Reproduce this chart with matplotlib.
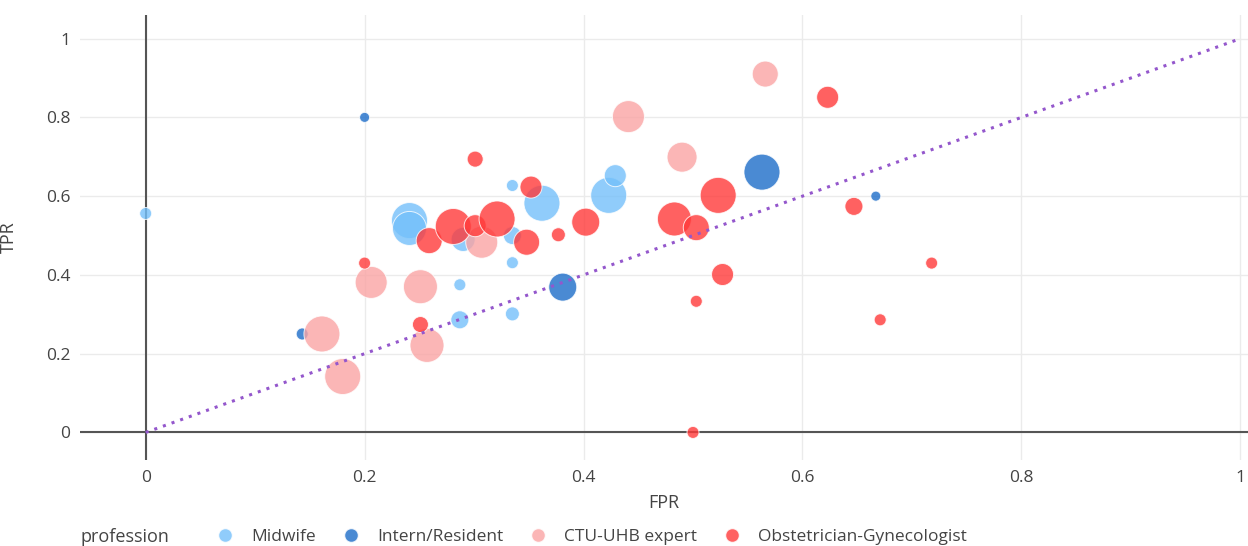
import numpy as np
import matplotlib
matplotlib.use("Agg")
import matplotlib.pyplot as plt
from matplotlib.lines import Line2D

plt.rcParams['font.family'] = ['Open Sans', 'DejaVu Sans']

professions = ["Midwife", "Intern/Resident", "CTU-UHB expert", "Obstetrician-Gynecologist"]
colors = ["#74C0FA", "#1D6DC9", "#FAA4A4", "#FF3939"]

# FPR, TPR and bubble size per profession
midwife_fpr = [0.0, 0.241, 0.241, 0.29, 0.335, 0.335, 0.362, 0.423, 0.429, 0.335, 0.287, 0.335, 0.287]
midwife_tpr = [0.556, 0.538, 0.518, 0.49, 0.627, 0.50, 0.582, 0.602, 0.652, 0.431, 0.375, 0.301, 0.286]
midwife_size = [6, 18, 17, 12, 6, 9, 18, 18, 11, 6, 6, 7, 9]

intern_fpr = [0.2, 0.563, 0.381, 0.143, 0.667]
intern_tpr = [0.8, 0.661, 0.369, 0.25, 0.6]
intern_size = [5, 18, 14, 6, 5]

ctu_fpr = [0.566, 0.441, 0.49, 0.307, 0.206, 0.251, 0.257, 0.161, 0.18]
ctu_tpr = [0.91, 0.802, 0.699, 0.483, 0.381, 0.37, 0.221, 0.25, 0.142]
ctu_size = [13, 16, 15, 16, 16, 17, 17, 18, 18]

obgyn_fpr = [0.623, 0.301, 0.352, 0.259, 0.281, 0.301, 0.321, 0.348, 0.377, 0.402,
             0.523, 0.483, 0.503, 0.647, 0.527, 0.503, 0.718, 0.671, 0.2, 0.251, 0.5]
obgyn_tpr = [0.851, 0.694, 0.623, 0.487, 0.523, 0.525, 0.542, 0.483, 0.502, 0.534,
             0.602, 0.542, 0.52, 0.574, 0.401, 0.333, 0.43, 0.286, 0.43, 0.274, 0.0]
obgyn_size = [11, 8, 11, 13, 18, 11, 18, 13, 7, 14,
              18, 17, 13, 9, 11, 6, 6, 6, 6, 8, 6]

series = [
    (midwife_fpr, midwife_tpr, midwife_size),
    (intern_fpr, intern_tpr, intern_size),
    (ctu_fpr, ctu_tpr, ctu_size),
    (obgyn_fpr, obgyn_tpr, obgyn_size),
]

fig = plt.figure(figsize=(12.48, 5.46), dpi=100)
ax = fig.add_axes([80 / 1248, 86 / 546, 1168 / 1248, 445 / 546])

ax.grid(True, color="#ebebeb", linewidth=1)
ax.set_axisbelow(True)
ax.axhline(0, color="#555555", linewidth=1.5, zorder=1)
ax.axvline(0, color="#555555", linewidth=1.5, zorder=1)

# diagonal reference line
ax.plot([0, 1], [0, 1], linestyle=(0, (1, 2)), color="#9457cc", linewidth=2.2, zorder=3)

for (fx, ty, sz), prof, col in zip(series, professions, colors):
    s = (1.44 * np.array(sz)) ** 2
    ax.scatter(fx, ty, s=s, color=col, alpha=0.8, edgecolors="white", linewidths=0.7,
               zorder=2, label=prof)

ax.set_xlim(-0.06, 1.007)
ax.set_ylim(-0.07, 1.06)
ax.set_xticks([0, 0.2, 0.4, 0.6, 0.8, 1])
ax.set_xticklabels(["0", "0.2", "0.4", "0.6", "0.8", "1"])
ax.set_yticks([0, 0.2, 0.4, 0.6, 0.8, 1])
ax.set_yticklabels(["0", "0.2", "0.4", "0.6", "0.8", "1"])
ax.tick_params(length=0, labelsize=12.5, colors="#444444", pad=7)
for sp in ax.spines.values():
    sp.set_visible(False)

ax.set_xlabel("FPR", fontsize=13, color="#444444", labelpad=6)
ax.set_ylabel("TPR", fontsize=13, color="#444444", labelpad=20)

fig.text(80 / 1248, 9 / 546, "profession", fontsize=13, color="#444444", va="center", ha="left")
handles = [Line2D([], [], marker="o", linestyle="", markersize=10, color=c, alpha=0.8,
                  markeredgecolor="white") for c in colors]
fig.legend(handles, professions, loc="center left", bbox_to_anchor=(208 / 1248, 9 / 546),
           ncol=4, frameon=False, fontsize=12.5, handletextpad=0.5, columnspacing=1.0,
           labelcolor="#444444", borderaxespad=0, borderpad=0)

plt.savefig("out.png", dpi=100)
